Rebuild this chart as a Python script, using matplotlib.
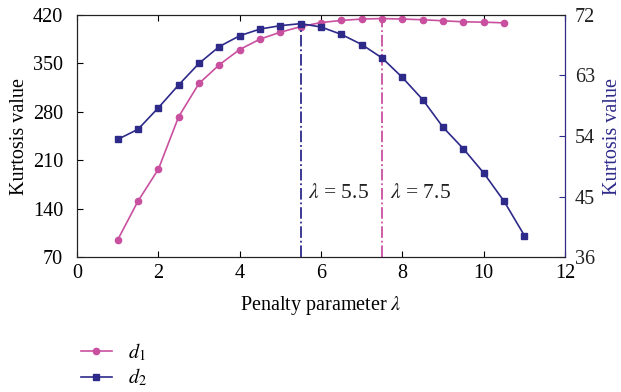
import matplotlib
matplotlib.use("Agg")
import matplotlib.pyplot as plt

plt.rcParams['font.family'] = ['Liberation Serif', 'DejaVu Serif']
plt.rcParams['mathtext.fontset'] = 'stix'

lam_d1 = [1, 1.5, 2, 2.5, 3, 3.5, 4, 4.5, 5, 5.5, 6, 6.5, 7, 7.5, 8, 8.5, 9, 9.5, 10, 10.5]
d1 = [95, 151, 197, 273, 321, 348, 370, 385, 395, 403, 409, 412, 414, 414.7, 414, 413, 411.5, 410, 409.5, 408.5]
lam_d2 = [1, 1.5, 2, 2.5, 3, 3.5, 4, 4.5, 5, 5.5, 6, 6.5, 7, 7.5, 8, 8.5, 9, 9.5, 10, 10.5, 11]
d2 = [53.5, 55.0, 58.2, 61.6, 64.8, 67.3, 68.9, 69.9, 70.4, 70.7, 70.2, 69.1, 67.6, 65.6, 62.7, 59.4, 55.3, 52.1, 48.5, 44.3, 39.2]
xticks = [0, 2, 4, 6, 8, 10, 12]
yticks_left = [70, 140, 210, 280, 350, 420]
yticks_right = [36, 45, 54, 63, 72]

pink = '#C9509F'
blue = '#2D2A8A'
fs = 14.5

fig = plt.figure(figsize=(6.21, 3.92), dpi=100)
ax = fig.add_axes([0.124, 0.344, 0.786, 0.618])
ax2 = ax.twinx()

l1, = ax.plot(lam_d1, d1, color=pink, marker='o', markersize=4.5, lw=1.2, label='$d_1$')
l2, = ax2.plot(lam_d2, d2, color=blue, marker='s', markersize=4.5, lw=1.2, label='$d_2$')

# vertical reference lines from bottom to curve
ax2.plot([5.5, 5.5], [36, d2[lam_d2.index(5.5)]], color=blue, ls='-.', lw=1.3)
ax.plot([7.5, 7.5], [70, d1[lam_d1.index(7.5)]], color=pink, ls='-.', lw=1.3)

ax.text(5.68, 162, r'$\lambda$ = 5.5', fontsize=15.5, ha='left', va='center', color='#222222')
ax.text(7.7, 162, r'$\lambda$ = 7.5', fontsize=15.5, ha='left', va='center', color='#222222')

ax.set_xlim(0, 12)
ax.set_ylim(70, 420)
ax2.set_ylim(36, 72)
ax.set_xticks(xticks)
ax.set_yticks(yticks_left)
ax2.set_yticks(yticks_right)

ax.tick_params(axis='x', direction='in', labelsize=fs, top=True, length=4, pad=5)
ax.tick_params(axis='y', direction='in', labelsize=fs, length=4, pad=10)
ax2.tick_params(direction='in', labelsize=fs, length=4, pad=7, colors=blue, labelcolor='#222222')
ax.set_xlabel(r'Penalty parameter $\lambda$', fontsize=fs, labelpad=8)
ax.set_ylabel('Kurtosis value', fontsize=fs, labelpad=3)
ax2.set_ylabel('Kurtosis value', fontsize=fs, color=blue, labelpad=6)
ax2.spines['right'].set_color(blue)
for s in ['left', 'top', 'bottom']:
    ax.spines[s].set_color('#222222')
    ax2.spines[s].set_color('#222222')

fig.legend(handles=[l1, l2], loc='upper left', bbox_to_anchor=(0.118, 0.15),
           frameon=False, fontsize=fs, handlelength=1.5, handletextpad=0.8,
           labelspacing=0.2, borderaxespad=0)

fig.savefig('out.png', dpi=100)
